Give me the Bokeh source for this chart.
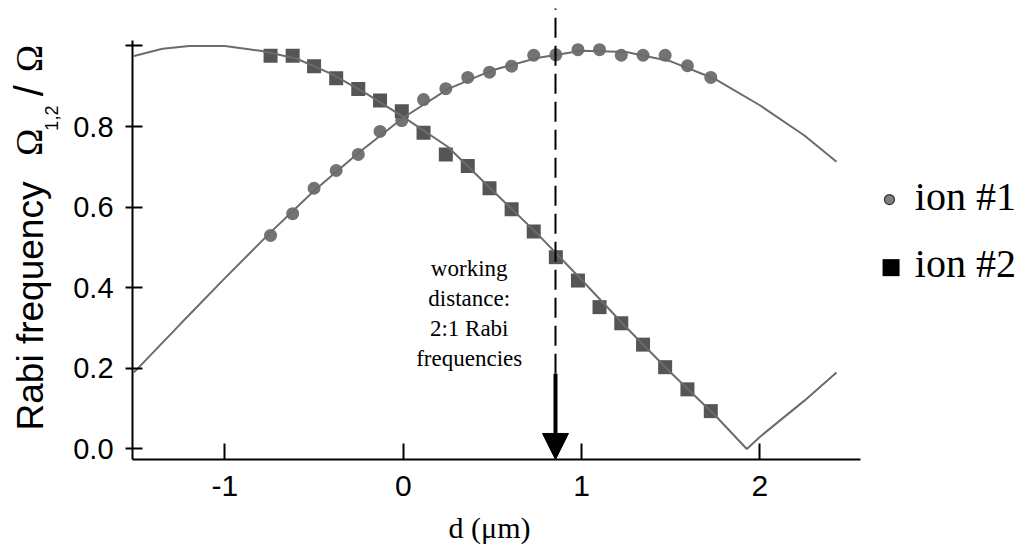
import numpy as np
from bokeh.plotting import figure
from bokeh.models import Range1d, FixedTicker, CustomJSTickFormatter, Label, Arrow, NormalHead
from bokeh.embed import file_html
from bokeh.resources import INLINE

# ion-trap displacement d (µm) and measured normalised Rabi frequencies
d_meas = [-0.744, -0.620, -0.500, -0.376, -0.252, -0.130, -0.008, 0.114, 0.239, 0.362,
          0.484, 0.608, 0.732, 0.856, 0.980, 1.101, 1.223, 1.345, 1.469, 1.594, 1.725]
ion1 = [0.530, 0.584, 0.647, 0.691, 0.731, 0.788, 0.815, 0.867, 0.894, 0.922,
        0.935, 0.950, 0.977, 0.978, 0.991, 0.991, 0.977, 0.977, 0.977, 0.951, 0.922]
ion2 = [0.976, 0.976, 0.950, 0.920, 0.893, 0.865, 0.838, 0.785, 0.731, 0.702,
        0.647, 0.595, 0.540, 0.476, 0.418, 0.352, 0.312, 0.259, 0.203, 0.148, 0.094]

# fitted curves
d_fit1 = [-1.51, -1.25, -1.0, -0.75, -0.5, -0.25, 0.0, 0.25, 0.5, 0.75, 1.0,
          1.25, 1.5, 1.75, 2.0, 2.25, 2.43]
fit1 = [0.190, 0.310, 0.424, 0.535, 0.641, 0.735, 0.822, 0.893, 0.940, 0.970, 0.988,
        0.985, 0.962, 0.918, 0.853, 0.778, 0.713]
d_fit2 = [-1.51, -1.35, -1.2, -1.0, -0.8, -0.6, -0.4, -0.2, 0.0, 0.25, 0.5, 0.75,
          1.0, 1.25, 1.5, 1.75, 1.927, 2.0, 2.25, 2.43]
fit2 = [0.975, 0.993, 1.000, 1.000, 0.988, 0.969, 0.930, 0.880, 0.824, 0.750, 0.642, 0.535,
        0.420, 0.302, 0.190, 0.083, 0.000, 0.030, 0.120, 0.190]

x_ticks = [-1, 0, 1, 2]
y_ticks = [0.0, 0.2, 0.4, 0.6, 0.8, 1.0]

working_d = 0.854      # 2:1 working distance
arrow_top = 0.187
dash_top = 1.093

# axis extents
XA0, XA1 = -1.518, 2.565
YA0, YA1 = -0.026, 1.013
# whole-canvas view window
X0, X1 = -2.2586, 3.490
Y0, Y1 = -0.2469, 1.1129

p = figure(width=1025, height=548, x_range=Range1d(X0, X1), y_range=Range1d(Y0, Y1),
           output_backend="svg", toolbar_location=None,
           min_border_left=0, min_border_right=0, min_border_top=0, min_border_bottom=0)
p.grid.visible = False
p.outline_line_color = None
p.background_fill_color = "white"
p.border_fill_color = "white"

ax = p.xaxis[0]
ax.fixed_location = YA0
ax.ticker = FixedTicker(ticks=x_ticks)
ax.bounds = (XA0, XA1)
ax.formatter = CustomJSTickFormatter(code="return tick.toFixed(0);")
ax.major_tick_in = 16
ax.major_tick_out = 0
ax.minor_tick_line_color = None
ax.axis_line_width = 2
ax.major_tick_line_width = 2
ax.axis_line_color = "black"
ax.major_tick_line_color = "black"
ax.major_label_text_font = "Liberation Sans"
ax.major_label_text_font_size = "30px"
ax.major_label_text_color = "black"
ax.major_label_standoff = 17

ay = p.yaxis[0]
ay.fixed_location = XA0
ay.ticker = FixedTicker(ticks=y_ticks)
ay.bounds = (YA0, YA1)
ay.major_tick_in = 10
ay.major_tick_out = 7
ay.minor_tick_line_color = None
ay.axis_line_width = 2
ay.major_tick_line_width = 2
ay.axis_line_color = "black"
ay.major_tick_line_color = "black"
ay.formatter = CustomJSTickFormatter(code="return tick > 0.9 ? '' : tick.toFixed(1);")
ay.major_label_text_font = "Liberation Sans"
ay.major_label_text_font_size = "29px"
ay.major_label_text_color = "black"
ay.major_label_standoff = 12

# measured points
p.scatter(d_meas, ion1, marker="circle", size=13, fill_color="#737373", line_color=None)
p.scatter(d_meas, ion2, marker="square", size=14, fill_color="#555555", line_color=None)

# fit curves
p.line(d_fit1, fit1, line_color="#6b6b6b", line_width=2)
p.line(d_fit2, fit2, line_color="#6b6b6b", line_width=2)

# working distance marker
p.line([working_d, working_d], [arrow_top, dash_top], line_color="black",
       line_width=2, line_dash="20 8")
p.add_layout(Arrow(end=NormalHead(size=26, fill_color="black", line_color="black", line_width=1),
                   x_start=working_d, y_start=arrow_top, x_end=working_d, y_end=YA0,
                   line_width=4, line_color="black"))

for txt, yv in zip(["working", "distance:", "2:1 Rabi", "frequencies"],
                   [0.449, 0.374, 0.300, 0.225]):
    p.add_layout(Label(x=0.37, y=yv, text=txt, text_align="center", text_baseline="alphabetic",
                       text_font="Liberation Serif", text_font_size="23px", text_color="black"))

# legend
p.scatter([2.727], [0.619], marker="circle", size=10, fill_color="#808080",
          line_color="#333333", line_width=1.2)
p.scatter([2.736], [0.450], marker="square", size=17, fill_color="black", line_color=None)
p.add_layout(Label(x=2.869, y=0.626, text="ion #1", text_font="Liberation Serif",
                   text_font_size="40px", text_baseline="alphabetic", text_color="black"))
p.add_layout(Label(x=2.869, y=0.460, text="ion #2", text_font="Liberation Serif",
                   text_font_size="40px", text_baseline="alphabetic", text_color="black"))

# axis titles
p.add_layout(Label(x=0.484, y=-0.196, text="d (μm)", text_align="center",
                   text_baseline="alphabetic", text_font="Liberation Serif",
                   text_font_size="30px", text_color="black"))
rot = np.pi / 2
p.add_layout(Label(x=-2.092, y=0.046, text="Rabi frequency", angle=rot, text_align="left",
                   text_baseline="alphabetic", text_font="Liberation Sans",
                   text_font_size="37px", text_color="black"))
p.add_layout(Label(x=-2.094, y=0.727, text="Ω", angle=rot, text_align="left",
                   text_baseline="alphabetic", text_font="Liberation Serif",
                   text_font_size="37px", text_color="black"))
p.add_layout(Label(x=-1.975, y=0.790, text="1,2", angle=rot, text_align="left",
                   text_baseline="alphabetic", text_font="Liberation Sans",
                   text_font_size="18px", text_color="black"))
p.add_layout(Label(x=-2.098, y=0.889, text="/", angle=rot, text_align="center",
                   text_baseline="alphabetic", text_font="Liberation Sans",
                   text_font_size="40px", text_color="black"))
p.add_layout(Label(x=-2.094, y=0.935, text="Ω", angle=rot, text_align="left",
                   text_baseline="alphabetic", text_font="Liberation Serif",
                   text_font_size="37px", text_color="black"))

open("out.html", "w").write(file_html(p, INLINE))
